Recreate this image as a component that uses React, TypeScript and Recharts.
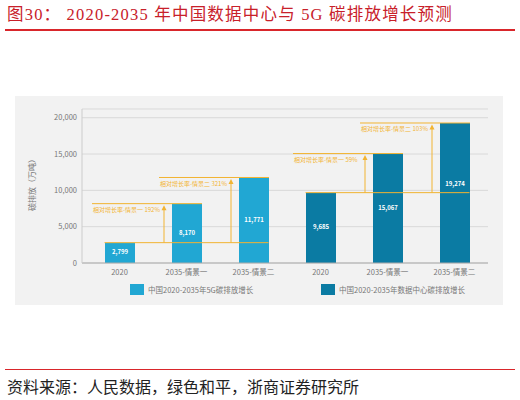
import {
  Bar,
  BarChart,
  CartesianGrid,
  Cell,
  Label,
  LabelList,
  Legend,
  ReferenceLine,
  XAxis,
  YAxis,
} from 'recharts';

const categories = ['2020', '2035-情景一', '2035-情景二'];
const emission5G = [2799, 8170, 11771];
const emissionDC = [9685, 15067, 19274];
const growth5G = ['', '192%', '321%'];
const growthDC = ['', '59%', '103%'];
const groupNames = ['中国2020-2035年5G碳排放增长', '中国2020-2035年数据中心碳排放增长'];
const groupKeys = ['5g', 'dc'];
const yTicks = [0, 5000, 10000, 15000, 20000];

const GOLD = '#f2b432';
const COLORS = ['#21a7d3', '#0b7ba3'];
const FONT = '"Noto Sans CJK SC", "Noto Sans", sans-serif';

type Row = { key: string; label: string; value: number; group: number; base: number; growth: string };

const rows: Row[] = [
  ...categories.map((label, i) => ({
    key: `5g-${i}`, label, value: emission5G[i], group: 0, base: emission5G[0], growth: growth5G[i],
  })),
  ...categories.map((label, i) => ({
    key: `dc-${i}`, label, value: emissionDC[i], group: 1, base: emissionDC[0], growth: growthDC[i],
  })),
];

const fmt = (v: any) => Number(v).toLocaleString('en-US');

// where the 2020 level crosses this bar, in pixels
const baseLevel = (row: Row, y: number, height: number) => y + height - (row.base / row.value) * height;

// value inside the bar, nudged up if the 2020 line runs through it
function ValueLabel(props: any) {
  const row = rows[props.index];
  if (!row) return null;
  const vb = props.viewBox ?? props;
  const { x, y, width, height } = vb;
  let cy = y + height / 2;
  const by = baseLevel(row, y, height);
  if (row.growth && Math.abs(cy - by) < 6) cy = by - 8;
  return (
    <text x={x + width / 2} y={cy} textAnchor="middle" dominantBaseline="middle" fontSize={6} fontWeight={600} fill="#fff">
      {fmt(row.value)}
    </text>
  );
}

// arrow + top line + text for each scenario bar
function GrowthNote(props: any) {
  const row = rows[props.index];
  if (!row || !row.growth) return null;
  const vb = props.viewBox ?? props;
  const { x, y, width, height } = vb;
  const baseY = baseLevel(row, y, height);
  const ax = x - 8;
  const left = x - 80;
  const scenario = row.label.split('-')[1];
  return (
    <g>
      <line x1={left} y1={y} x2={x + width} y2={y} stroke={GOLD} strokeWidth={1} />
      <line x1={ax} y1={baseY} x2={ax} y2={y + 4} stroke={GOLD} strokeWidth={1} />
      <path d={`M${ax - 2.5},${y + 6.5} L${ax},${y + 1.5} L${ax + 2.5},${y + 6.5} Z`} fill={GOLD} />
      <text x={left + 1} y={y + 6.5} fontSize={6} fill={GOLD} dominantBaseline="middle">
        {`相对增长率-${scenario}  ${row.growth}`}
      </text>
    </g>
  );
}

function BaseLine(p: any) {
  return <line x1={p.x1 - 15} y1={p.y1} x2={p.x2 + 15} y2={p.y2} stroke={GOLD} strokeWidth={1} />;
}

function LegendBox() {
  return (
    <div style={{ height: 26, position: 'relative', fontFamily: FONT }}>
      {groupNames.map((name, i) => (
        <div
          key={name}
          style={{
            position: 'absolute',
            left: i === 0 ? 115 : 306,
            top: 5,
            display: 'flex',
            alignItems: 'center',
            fontSize: 7.5,
            color: '#777',
            whiteSpace: 'nowrap',
          }}
        >
          <span style={{ width: 14, height: 11, background: COLORS[i], marginRight: 4, display: 'inline-block' }} />
          {name}
        </div>
      ))}
    </div>
  );
}

export default function App() {
  return (
    <div style={{ position: 'absolute', left: 0, top: 0, width: 520, height: 400, background: '#fff' }}>
      <div
        style={{
          position: 'absolute', left: 7, top: 4, lineHeight: '22px', fontSize: 16.5, letterSpacing: 1.2,
          color: '#c8202a', whiteSpace: 'nowrap', fontFamily: '"Liberation Serif", "Noto Sans CJK SC", serif',
        }}
      >
        图30： 2020-2035 年中国数据中心与 5G 碳排放增长预测
      </div>
      <div style={{ position: 'absolute', left: 5, top: 29, width: 510, height: 1.5, background: '#d9262b' }} />

      <div style={{ position: 'absolute', left: 15, top: 96, width: 488, height: 209, background: '#f2f2f2', fontFamily: FONT }}>
        <BarChart width={488} height={209} data={rows} margin={{ top: 13, right: 15, left: 0, bottom: 0 }}>
          <CartesianGrid vertical={false} stroke="#d9d9d9" />
          <XAxis
            dataKey="key"
            interval={0}
            height={16}
            tickLine={false}
            tickSize={4}
            tickMargin={3}
            padding={{ left: 4, right: 0 }}
            axisLine={{ stroke: '#aaaaaa' }}
            tick={{ fontSize: 7.5, fill: '#777' }}
            tickFormatter={(k) => rows.find((r) => r.key === k)?.label ?? ''}
          />
          <YAxis
            domain={[0, 21200]}
            ticks={yTicks}
            width={67}
            tickLine={false}
            tickSize={0}
            tickMargin={5}
            axisLine={{ stroke: '#cccccc' }}
            tick={{ fontSize: 7.5, fill: '#777' }}
            tickFormatter={fmt}
          >
            <Label
              content={({ viewBox }: any) => {
                const cx = viewBox.x + 18;
                const cy = viewBox.y + viewBox.height / 2 - 3;
                return (
                  <text
                    x={cx}
                    y={cy}
                    transform={`rotate(-90 ${cx} ${cy})`}
                    textAnchor="middle"
                    dominantBaseline="middle"
                    fontSize={8}
                    fill="#777"
                  >
                    碳排放（万吨）
                  </text>
                );
              }}
            />
          </YAxis>
          <Legend verticalAlign="bottom" content={() => <LegendBox />} />
          <Bar dataKey="value" barSize={30} isAnimationActive={false}>
            {rows.map((r) => (
              <Cell key={r.key} fill={COLORS[r.group]} />
            ))}
            <LabelList dataKey="value" content={GrowthNote} />
            <LabelList dataKey="value" content={ValueLabel} />
          </Bar>
          {groupKeys.map((g, i) => (
            <ReferenceLine
              key={g}
              segment={[
                { x: `${g}-0`, y: rows[i * 3].value },
                { x: `${g}-2`, y: rows[i * 3].value },
              ]}
              shape={BaseLine}
            />
          ))}
        </BarChart>
      </div>

      <div style={{ position: 'absolute', left: 5, top: 368.5, width: 510, height: 1.3, background: '#d9262b' }} />
      <div
        style={{
          position: 'absolute', left: 7, top: 376, lineHeight: '20px', fontSize: 16, color: '#222',
          whiteSpace: 'nowrap', fontFamily: '"Noto Sans CJK SC", sans-serif',
        }}
      >
        资料来源：人民数据，绿色和平，浙商证券研究所
      </div>
    </div>
  );
}
